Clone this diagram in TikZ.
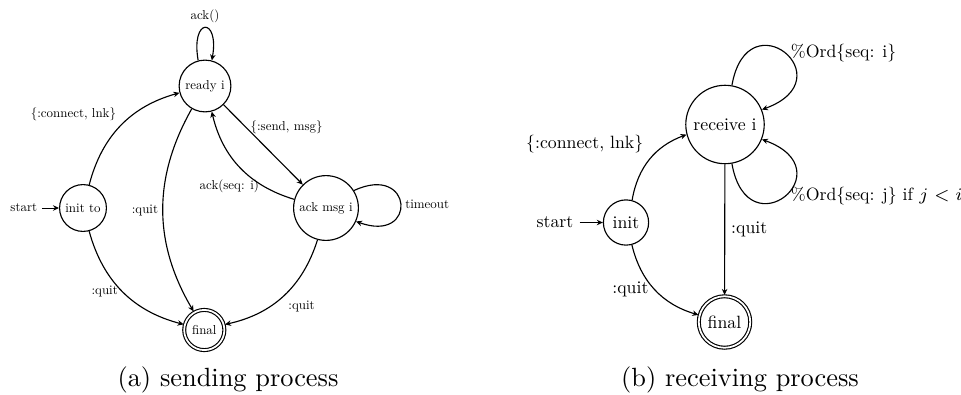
\documentclass[tikz,border=0pt]{standalone}
\usepackage{amsmath}
\usepackage{fontspec}
\setmainfont{lmroman10-regular.otf}
\usepackage{tikz}
\usetikzlibrary{automata,arrows.meta}

\begin{document}
\begin{tikzpicture}[
		>={Stealth[length=2.4pt,width=2.2pt]},
		every state/.style={draw, circle, minimum size=0pt, line width=0.45pt},
		accepting by double/.append style={double distance=0.7pt},
		trans/.style={->, line width=0.45pt},
		sendfig/.style={font=\fontsize{5.15}{6.2}\selectfont, initial distance=6.8pt,
			every node/.style={inner sep=1.7pt}},
		recvfig/.style={font=\fontsize{7.08}{8.5}\selectfont, initial distance=9.2pt,
			every node/.style={inner sep=2.36pt}},
		caption/.style={font=\fontsize{10.5}{12.6}\selectfont}]
	\useasboundingbox (0, 0) rectangle (13.454, -5.516);

	\begin{scope}[sendfig]
		\node[state] (ready) at (2.870, -1.204){ready i};
		\node[state, initial] (initto) at (1.162, -2.912){init to};
		\node[state] (ackmsg) at (4.564, -2.912){ack msg i};
		\node[state, accepting, minimum size=16pt] (final) at (2.860, -4.620){final};

		\draw[trans] (initto) to[bend left=30] node[above left]{\{:connect, lnk\}} (ready);
		\draw[trans] (ready) -- node[pos=0.28, right]{\{:send, msg\}} (ackmsg);
		\draw[trans] (ackmsg) to[bend left=30] node[pos=0.25, left]{ack(seq: i)} (ready);
		\draw[trans] (ready) to[bend right=30] node[left]{:quit} (final);
		\draw[trans] (initto) to[bend right=30] node[left]{:quit} (final);
		\draw[trans] (ackmsg) to[bend left=30] node[below right]{:quit} (final);
		\draw[trans] (ready.105) .. controls +(100:0.62) and +(80:0.62) .. node[above]{ack()} (ready.75);
		\draw[trans] (ackmsg.32) .. controls +(25:0.92) and +(-20:0.92) .. node[right]{timeout} (ackmsg.-24);
	\end{scope}
	\node[caption] (capa) at (3.192, -5.320){(a) sending process};

	\begin{scope}[recvfig]
		\node[state] (recv) at (10.150, -1.743){receive i};
		\node[state, initial] (init) at (8.764, -3.115){init};
		\node[state, accepting] (fin) at (10.143, -4.508){final};

		\draw[trans] (init) to[bend left=30] node[above left]{\{:connect, lnk\}} (recv);
		\draw[trans] (recv) -- node[right]{:quit} (fin);
		\draw[trans] (init) to[bend right=30] node[left]{:quit} (fin);
		\draw[trans] (recv.80) .. controls +(80:1.26) and +(20:1.26) .. node[right]{\%Ord\{seq: i\}} (recv.22);
		\draw[trans] (recv.-80) .. controls +(-80:1.26) and +(-20:1.26) .. node[right]{\%Ord\{seq: j\} if $j < i$} (recv.-22);
	\end{scope}
	\node[caption] (capb) at (10.360, -5.320){(b) receiving process};
\end{tikzpicture}
\end{document}
